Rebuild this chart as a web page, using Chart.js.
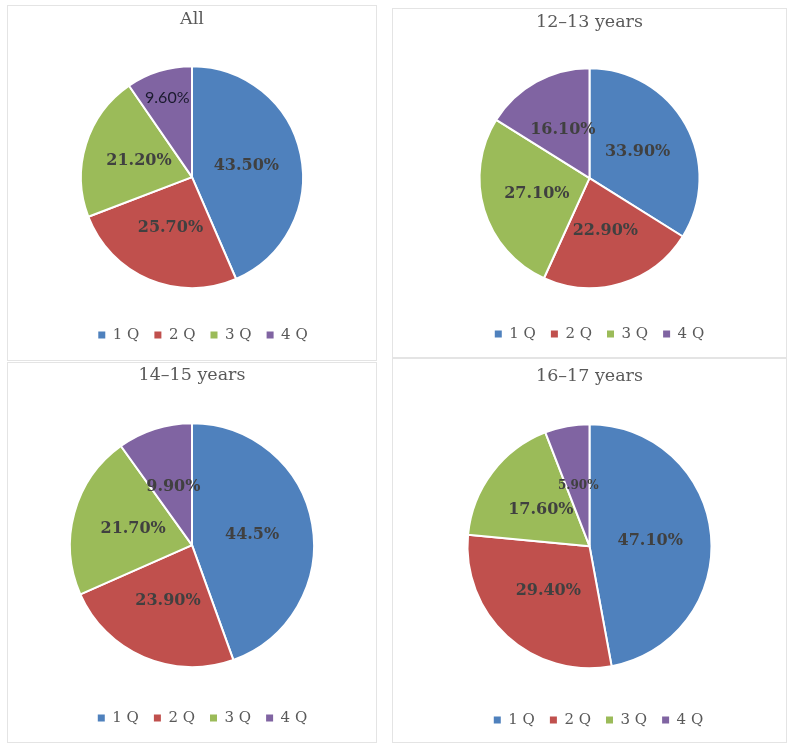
<!DOCTYPE html>
<html>
<head>
<meta charset="utf-8">
<script src="https://cdn.jsdelivr.net/npm/chart.js@4.4.1/dist/chart.umd.min.js"></script>
<style>
  html, body { margin: 0; padding: 0; background: #ffffff; }
  body { width: 791px; height: 751px; position: relative; overflow: hidden; }
  .panel { position: absolute; box-sizing: border-box; border: 1px solid #e4e4e4; background: #fff; }
  .panel canvas { position: absolute; left: 0; top: 0; }
</style>
</head>
<body>
<div class="panel" id="p1" style="left:7px;top:5px;width:370px;height:356px;"><canvas id="c1" width="368" height="354"></canvas></div>
<div class="panel" id="p2" style="left:392px;top:8px;width:395px;height:350px;"><canvas id="c2" width="393" height="348"></canvas></div>
<div class="panel" id="p3" style="left:7px;top:362px;width:370px;height:381px;"><canvas id="c3" width="368" height="379"></canvas></div>
<div class="panel" id="p4" style="left:392px;top:358px;width:395px;height:385px;"><canvas id="c4" width="393" height="383"></canvas></div>
<script>
// ---- data ----
const categories = ['1 Q', '2 Q', '3 Q', '4 Q'];
const titles = ['All', '12\u201313 years', '14\u201315 years', '16\u201317 years'];
const valuesAll = [43.5, 25.7, 21.2, 9.6];
const values1213 = [33.9, 22.9, 27.1, 16.1];
const values1415 = [44.5, 23.9, 21.7, 9.9];
const values1617 = [47.1, 29.4, 17.6, 5.9];
const textAll = ['43.50%', '25.70%', '21.20%', '9.60%'];
const text1213 = ['33.90%', '22.90%', '27.10%', '16.10%'];
const text1415 = ['44.5%', '23.90%', '21.70%', '9.90%'];
const text1617 = ['47.10%', '29.40%', '17.60%', '5.90%'];

const colors = ['#4F81BD', '#C0504D', '#9BBB59', '#8064A2'];

// slice label plugin (text at each arc's centre, from the arc element geometry)
const sliceLabels = {
  id: 'sliceLabels',
  afterDatasetsDraw(chart, args, opts) {
    const ctx = chart.ctx;
    const meta = chart.getDatasetMeta(0);
    meta.data.forEach((arc, i) => {
      const p = arc.getProps(['x', 'y', 'startAngle', 'endAngle', 'outerRadius'], true);
      const mid = (p.startAngle + p.endAngle) / 2;
      const f = (opts.radial && opts.radial[i] != null) ? opts.radial[i] : 0.5;
      const r = p.outerRadius * f;
      const x = p.x + Math.cos(mid) * r;
      const y = p.y + Math.sin(mid) * r;
      const st = (opts.special && opts.special[i]) || {};
      ctx.save();
      ctx.font = st.font || opts.font;
      ctx.fillStyle = st.color || opts.color;
      ctx.textAlign = 'center';
      ctx.textBaseline = 'middle';
      ctx.fillText(opts.texts[i], x, y);
      ctx.restore();
    });
  }
};

// nudges the legend row sideways (the original legend sits a little right of the pie)
const legendShift = {
  id: 'legendShift',
  afterLayout(chart, args, opts) {
    if (chart.legend && opts.dx) {
      chart.legend.left += opts.dx;
      chart.legend.right += opts.dx;
    }
  }
};

const defaultLabels = Chart.overrides.pie.plugins.legend.labels.generateLabels;

function makePie(id, title, values, texts, cfg) {
  return new Chart(document.getElementById(id), {
    type: 'pie',
    data: {
      labels: categories,
      datasets: [{
        data: values,
        backgroundColor: colors,
        borderColor: '#ffffff',
        borderWidth: 2,
        radius: cfg.radius,
        clip: false
      }]
    },
    options: {
      responsive: false,
      maintainAspectRatio: false,
      animation: false,
      events: [],
      layout: { padding: { top: 0, bottom: cfg.padBottom, left: 0, right: 0 } },
      plugins: {
        tooltip: { enabled: false },
        title: {
          display: true,
          text: title,
          color: '#595959',
          font: { family: 'DejaVu Serif', size: 17.5, weight: 'normal', lineHeight: 1.2 },
          padding: { top: cfg.titleTop, bottom: cfg.titleBottom }
        },
        legend: {
          display: true,
          position: 'bottom',
          align: 'center',
          labels: {
            boxWidth: 7,
            boxHeight: 7,
            padding: 15,
            color: '#595959',
            font: { family: 'DejaVu Serif', size: 15 },
            generateLabels(chart) {
              return defaultLabels(chart).map(l => Object.assign(l, { lineWidth: 0, strokeStyle: l.fillStyle }));
            }
          }
        },
        legendShift: { dx: cfg.legendDx },
        sliceLabels: {
          texts: texts,
          font: 'bold 16px "DejaVu Serif"',
          color: '#404040',
          radial: cfg.radial,
          special: cfg.special
        }
      }
    },
    plugins: [legendShift, sliceLabels]
  });
}

makePie('c1', titles[0], valuesAll, textAll, {
  radius: 111, padBottom: 7.5, titleTop: 3.0, titleBottom: 11.8, legendDx: 11,
  radial: [0.5, 0.5, 0.5, 0.75],
  special: { 3: { font: '16px Lato', color: '#1a1a2e' } }
});
makePie('c2', titles[1], values1213, text1213, {
  radius: 110, padBottom: 5.5, titleTop: 2.8, titleBottom: 12, legendDx: 10
});
makePie('c3', titles[2], values1415, text1415, {
  radius: 122, padBottom: 6.5, titleTop: 2.2, titleBottom: 8.6, legendDx: 10.5
});
makePie('c4', titles[3], values1617, text1617, {
  radius: 122, padBottom: 4.5, titleTop: 6.5, titleBottom: 8.3, legendDx: 9,
  special: { 3: { font: 'bold 12px "DejaVu Serif"' } }
});
</script>
</body>
</html>
